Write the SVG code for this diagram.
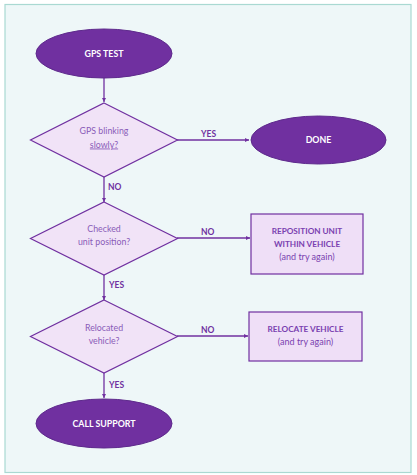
<svg xmlns="http://www.w3.org/2000/svg" width="417" height="475" viewBox="0 0 417 475">
<style>
.term{fill:#7030a0;stroke:#5e2a8c;stroke-width:1}
.dec{fill:#f1e3f7;stroke:#7030a0;stroke-width:1.2}
.box{fill:#efdff7;stroke:#7030a0;stroke-width:1.2}
.tt{font-family:Lato,"Liberation Sans",sans-serif;font-weight:bold;font-size:8.8px;fill:#ffffff;text-anchor:middle}
.dt{font-family:Lato,"Liberation Sans",sans-serif;font-size:8.8px;fill:#8a5cb8;text-anchor:middle}
.bt{font-family:Lato,"Liberation Sans",sans-serif;font-weight:bold;font-size:8.2px;fill:#7a3fb0;text-anchor:middle}
.bs{font-family:Lato,"Liberation Sans",sans-serif;font-size:9px;fill:#7a3fb0;text-anchor:middle}
.lb{font-family:Lato,"Liberation Sans",sans-serif;font-weight:bold;font-size:8.5px;fill:#7030a0}
.cn{stroke:#7030a0;stroke-width:1.3;fill:none;marker-end:url(#ah)}
</style>
<defs>
<marker id="ah" viewBox="0 0 10 10" refX="10" refY="5" markerWidth="4.5" markerHeight="4.5" orient="auto" markerUnits="userSpaceOnUse">
<path d="M0,0 L10,5 L0,10 z" fill="#7030a0"/>
</marker>
</defs>
<rect x="5" y="4.5" width="406" height="468" fill="#eef7f8" stroke="#a9d9d2" stroke-width="1.2"/>
<g id="connectors">
<path class="cn" d="M104,78 L104,102"/>
<path class="cn" d="M177,140 L249,140"/>
<path class="cn" d="M104,177 L104,202"/>
<path class="cn" d="M177,238 L250,238"/>
<path class="cn" d="M104,275 L104,300"/>
<path class="cn" d="M177,336 L248,336"/>
<path class="cn" d="M104,373 L104,398"/>
<text class="lb" x="201" y="137">YES</text>
<text class="lb" x="108" y="190">NO</text>
<text class="lb" x="201" y="235">NO</text>
<text class="lb" x="109" y="288">YES</text>
<text class="lb" x="201" y="333">NO</text>
<text class="lb" x="109" y="388">YES</text>
</g>
<g id="gps-test">
<ellipse class="term" cx="104" cy="53.5" rx="68" ry="24.5"/>
<text class="tt" x="104" y="56.5">GPS TEST</text>
</g>
<g id="gps-blinking">
<polygon class="dec" points="104,103 177.5,140 104,177 30.5,140"/>
<text class="dt" x="104" y="134">GPS blinking</text>
<text class="dt" x="104" y="147.5" fill="#7a5cc0" text-decoration="underline">slowly?</text>
</g>
<g id="done">
<ellipse class="term" cx="318.5" cy="140" rx="67.5" ry="24"/>
<text class="tt" x="318.5" y="143">DONE</text>
</g>
<g id="checked-position">
<polygon class="dec" points="104,202 177.5,238.5 104,275 30.5,238.5"/>
<text class="dt" x="104" y="232">Checked</text>
<text class="dt" x="104" y="245">unit position?</text>
</g>
<g id="reposition">
<rect class="box" x="251" y="214" width="112" height="60"/>
<text class="bt" x="307" y="234">REPOSITION UNIT</text>
<text class="bt" x="307" y="247">WITHIN VEHICLE</text>
<text class="bs" x="307" y="260">(and try again)</text>
</g>
<g id="relocated">
<polygon class="dec" points="104,300 177.5,336.5 104,373 30.5,336.5"/>
<text class="dt" x="104" y="331">Relocated</text>
<text class="dt" x="104" y="344">vehicle?</text>
</g>
<g id="relocate">
<rect class="box" x="249" y="312" width="113" height="49"/>
<text class="bt" x="305.5" y="332">RELOCATE VEHICLE</text>
<text class="bs" x="305.5" y="345">(and try again)</text>
</g>
<g id="call-support">
<ellipse class="term" cx="104" cy="423.5" rx="68" ry="24.5"/>
<text class="tt" x="104" y="426.5">CALL SUPPORT</text>
</g>
</svg>
